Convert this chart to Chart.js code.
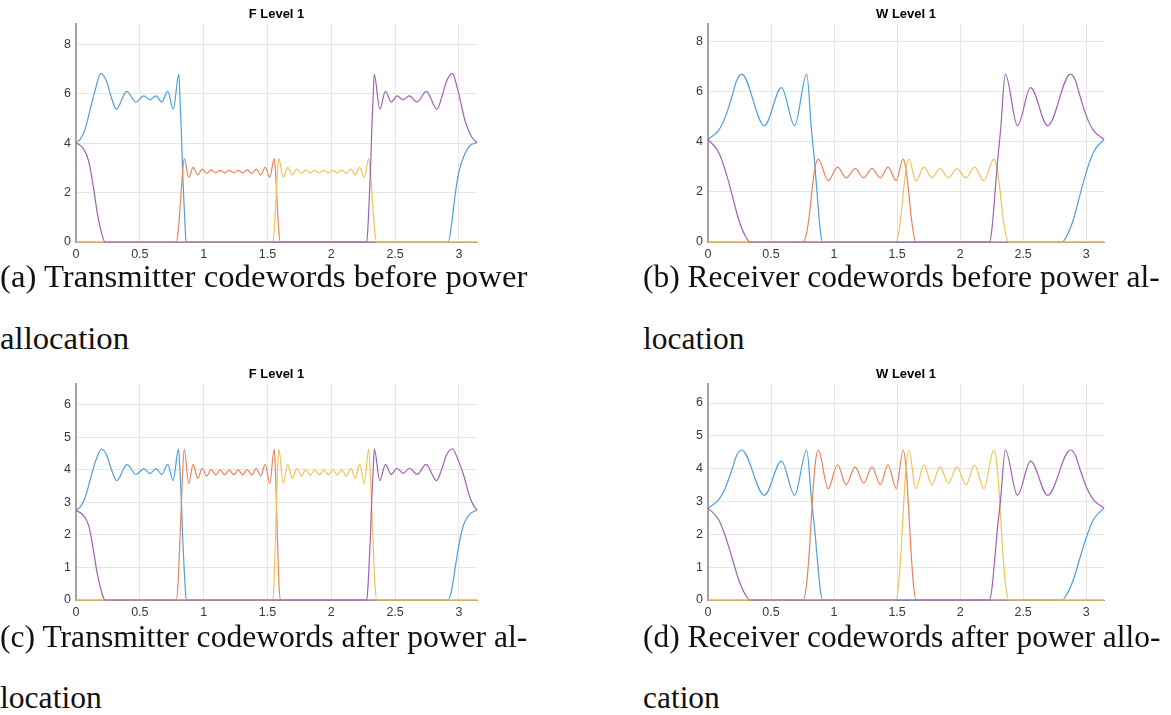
<!DOCTYPE html>
<html>
<head>
<meta charset="utf-8">
<title>Codewords before and after power allocation</title>
<script src="https://cdn.jsdelivr.net/npm/chart.js@4.4.1/dist/chart.umd.min.js"></script>
<style>
  body { margin: 0; background: #fff; width: 1171px; height: 715px; position: relative; overflow: hidden; }
  canvas { position: absolute; }
  .cap { position: absolute; font-family: 'Liberation Serif', 'Times New Roman', serif; font-size: 31px; line-height: 31px; white-space: nowrap; color: #111; transform-origin: 0 0; }
</style>
</head>
<body>
<canvas id="chartA" width="451" height="262" style="left:36px; top:0px"></canvas>
<canvas id="chartB" width="446" height="262" style="left:668px; top:0px"></canvas>
<canvas id="chartC" width="451" height="260" style="left:36px; top:360px"></canvas>
<canvas id="chartD" width="446" height="260" style="left:668px; top:360px"></canvas>

<div class="cap" id="capA1" data-w="527" style="left:0px; top:261px">(a) Transmitter codewords before power</div>
<div class="cap" id="capA2" style="left:0px; top:323px">allocation</div>
<div class="cap" id="capB1" data-w="517" style="left:643px; top:261px">(b) Receiver codewords before power al-</div>
<div class="cap" id="capB2" style="left:643px; top:323px">location</div>
<div class="cap" id="capC1" data-w="527" style="left:0px; top:621px">(c) Transmitter codewords after power al-</div>
<div class="cap" id="capC2" style="left:0px; top:682px">location</div>
<div class="cap" id="capD1" data-w="517" style="left:643px; top:621px">(d) Receiver codewords after power allo-</div>
<div class="cap" id="capD2" style="left:643px; top:682px">cation</div>

<script>
// tick labels
const xTicks = [0, 0.5, 1, 1.5, 2, 2.5, 3];
const yTicksBefore = [0, 2, 4, 6, 8];
const yTicksAfter = [0, 1, 2, 3, 4, 5, 6];
const yLimits = [8.83, 8.71, 6.64, 6.58];   // a, b, c, d
const titles = ['F Level 1', 'W Level 1', 'F Level 1', 'W Level 1'];

// (a) transmitter codewords before power allocation  [x, y]
const aBlue = [[0,4.02],[0.035,4.18],[0.07,4.55],[0.11,5.35],[0.15,6.15],[0.195,6.83],[0.24,6.5],[0.28,5.8],[0.315,5.38],[0.398,6.1],[0.47,5.67],[0.532,5.92],[0.58,5.76],[0.625,5.92],[0.672,5.67],[0.718,6.1],[0.762,5.38],[0.806,6.8],[0.814,5.9],[0.825,4.53],[0.835,2.91],[0.846,1.57],[0.856,0.49],[0.863,0],[2.916,0],[2.942,0.7],[2.97,1.9],[3.0,2.85],[3.04,3.5],[3.085,3.9],[3.1416,4.02]];
const aOrange = [[0,0],[0.785,0],[0.8,0.4],[0.815,1.4],[0.83,2.5],[0.848,3.38],[0.883,2.62],[0.918,3.02],[0.954,2.72],[0.989,2.95],[1.024,2.78],[1.059,2.92],[1.095,2.8],[1.13,2.9],[1.165,2.8],[1.2,2.9],[1.236,2.8],[1.271,2.9],[1.306,2.8],[1.341,2.92],[1.377,2.78],[1.412,2.95],[1.447,2.72],[1.482,3.02],[1.518,2.62],[1.553,3.38],[1.561,3.0],[1.568,2.4],[1.578,1.4],[1.588,0.5],[1.6,0],[3.1416,0]];
const aYellow = [[0,0],[1.542,0],[1.553,0.5],[1.563,1.4],[1.573,2.4],[1.58,3.0],[1.589,3.38],[1.624,2.62],[1.659,3.02],[1.694,2.72],[1.73,2.95],[1.765,2.78],[1.8,2.92],[1.835,2.8],[1.871,2.9],[1.906,2.8],[1.941,2.9],[1.976,2.8],[2.012,2.9],[2.047,2.8],[2.082,2.92],[2.117,2.78],[2.153,2.95],[2.188,2.72],[2.223,3.02],[2.258,2.62],[2.294,3.38],[2.311,2.5],[2.326,1.4],[2.341,0.4],[2.356,0],[3.1416,0]];
const aPurple = [[0,4.02],[0.057,3.79],[0.097,3.32],[0.136,2.24],[0.167,1.16],[0.201,0.35],[0.227,0],[2.278,0],[2.286,0.49],[2.296,1.57],[2.307,2.91],[2.317,4.53],[2.328,5.9],[2.336,6.8],[2.38,5.38],[2.424,6.1],[2.47,5.67],[2.517,5.92],[2.562,5.76],[2.61,5.92],[2.672,5.67],[2.744,6.1],[2.828,5.38],[2.862,5.8],[2.902,6.5],[2.948,6.83],[2.994,6.1],[3.046,4.94],[3.099,4.26],[3.1416,4.02]];

// (b) receiver codewords before power allocation
const bBlue = [[0,4.1],[0.084,4.46],[0.137,4.99],[0.189,5.8],[0.229,6.47],[0.267,6.71],[0.447,4.65],[0.583,6.17],[0.687,4.65],[0.783,6.71],[0.821,4.46],[0.847,3.12],[0.874,1.39],[0.89,0.5],[0.907,0],[2.808,0],[2.847,0.25],[2.9,0.92],[2.953,1.92],[3.005,2.86],[3.058,3.59],[3.1416,4.1]];
const bOrange = [[0,0],[0.755,0],[0.78,0.3],[0.805,1.12],[0.831,2.32],[0.852,3.05],[0.875,3.31],[0.953,2.45],[1.028,2.99],[1.095,2.56],[1.168,2.93],[1.235,2.56],[1.301,2.93],[1.367,2.56],[1.428,2.99],[1.493,2.45],[1.548,3.31],[1.57,2.95],[1.59,2.1],[1.61,1.1],[1.63,0.35],[1.65,0],[3.1416,0]];
const bYellow = [[0,0],[1.492,0],[1.512,0.35],[1.532,1.1],[1.552,2.1],[1.572,2.95],[1.594,3.31],[1.649,2.45],[1.714,2.99],[1.775,2.56],[1.841,2.93],[1.907,2.56],[1.974,2.93],[2.047,2.56],[2.114,2.99],[2.189,2.45],[2.267,3.31],[2.29,3.05],[2.311,2.32],[2.337,1.12],[2.362,0.3],[2.387,0],[3.1416,0]];
const bPurple = [[0,4.1],[0.084,3.59],[0.137,2.86],[0.189,1.92],[0.242,0.92],[0.295,0.25],[0.334,0],[2.235,0],[2.252,0.5],[2.268,1.39],[2.295,3.12],[2.321,4.46],[2.359,6.71],[2.455,4.65],[2.559,6.17],[2.695,4.65],[2.875,6.71],[2.913,6.47],[2.953,5.8],[3.005,4.99],[3.058,4.46],[3.1416,4.1]];

// (c) transmitter codewords after power allocation
const cBlue = [[0,2.76],[0.035,2.87],[0.07,3.13],[0.11,3.68],[0.15,4.23],[0.2,4.64],[0.24,4.45],[0.28,3.98],[0.318,3.67],[0.4,4.16],[0.47,3.86],[0.532,4.04],[0.58,3.89],[0.626,4.04],[0.673,3.86],[0.718,4.17],[0.76,3.67],[0.804,4.64],[0.814,4.0],[0.825,3.1],[0.835,2.0],[0.846,1.05],[0.856,0.33],[0.863,0],[2.916,0],[2.945,0.35],[2.975,1.1],[3.005,1.8],[3.04,2.35],[3.085,2.64],[3.1416,2.76]];
const cOrange = [[0,0],[0.785,0],[0.8,0.55],[0.815,1.9],[0.83,3.4],[0.848,4.64],[0.883,3.58],[0.918,4.17],[0.954,3.74],[0.989,4.05],[1.024,3.81],[1.059,4.01],[1.095,3.84],[1.13,4.0],[1.165,3.85],[1.2,4.0],[1.236,3.85],[1.271,4.0],[1.306,3.85],[1.341,4.01],[1.377,3.84],[1.412,4.05],[1.447,3.81],[1.482,4.17],[1.518,3.58],[1.553,4.64],[1.561,4.1],[1.568,3.3],[1.578,1.9],[1.588,0.7],[1.6,0],[3.1416,0]];
const cYellow = [[0,0],[1.542,0],[1.553,0.7],[1.563,1.9],[1.573,3.3],[1.58,4.1],[1.589,4.64],[1.624,3.58],[1.659,4.17],[1.694,3.74],[1.73,4.05],[1.765,3.81],[1.8,4.01],[1.835,3.84],[1.871,4.0],[1.906,3.85],[1.941,4.0],[1.976,3.85],[2.012,4.0],[2.047,3.84],[2.082,4.01],[2.117,3.81],[2.153,4.05],[2.188,3.74],[2.223,4.17],[2.258,3.58],[2.294,4.64],[2.311,3.4],[2.326,1.9],[2.341,0.55],[2.356,0],[3.1416,0]];
const cPurple = [[0,2.76],[0.057,2.6],[0.1,2.28],[0.136,1.54],[0.167,0.8],[0.201,0.24],[0.227,0],[2.278,0],[2.286,0.33],[2.296,1.05],[2.307,2.0],[2.317,3.1],[2.328,4.0],[2.337,4.64],[2.38,3.67],[2.425,4.17],[2.468,3.86],[2.516,4.05],[2.563,3.89],[2.612,4.05],[2.673,3.86],[2.742,4.17],[2.825,3.67],[2.862,3.98],[2.902,4.45],[2.948,4.65],[2.994,4.3],[3.033,3.89],[3.085,3.17],[3.115,2.9],[3.1416,2.76]];

// (d) receiver codewords after power allocation
const dBlue = [[0,2.8],[0.084,3.05],[0.137,3.41],[0.189,3.96],[0.229,4.42],[0.267,4.57],[0.447,3.19],[0.583,4.23],[0.687,3.19],[0.783,4.57],[0.821,3.05],[0.847,2.13],[0.874,0.95],[0.89,0.34],[0.907,0],[2.808,0],[2.847,0.17],[2.9,0.63],[2.953,1.31],[3.005,1.95],[3.058,2.45],[3.1416,2.8]];
const dOrange = [[0,0],[0.755,0],[0.78,0.41],[0.805,1.55],[0.831,3.2],[0.852,4.2],[0.875,4.57],[0.953,3.39],[1.028,4.12],[1.095,3.51],[1.168,4.05],[1.235,3.56],[1.301,4.05],[1.367,3.51],[1.428,4.12],[1.493,3.39],[1.548,4.57],[1.57,4.07],[1.59,2.9],[1.61,1.52],[1.63,0.48],[1.65,0],[3.1416,0]];
const dYellow = [[0,0],[1.492,0],[1.512,0.48],[1.532,1.52],[1.552,2.9],[1.572,4.07],[1.594,4.57],[1.649,3.39],[1.714,4.12],[1.775,3.51],[1.841,4.05],[1.907,3.56],[1.974,4.05],[2.047,3.51],[2.114,4.12],[2.189,3.39],[2.267,4.57],[2.29,4.2],[2.311,3.2],[2.337,1.55],[2.362,0.41],[2.387,0],[3.1416,0]];
const dPurple = [[0,2.8],[0.084,2.45],[0.137,1.95],[0.189,1.31],[0.242,0.63],[0.295,0.17],[0.334,0],[2.235,0],[2.252,0.34],[2.268,0.95],[2.295,2.13],[2.321,3.05],[2.359,4.57],[2.455,3.19],[2.559,4.23],[2.695,3.19],[2.875,4.57],[2.913,4.42],[2.953,3.96],[3.005,3.41],[3.058,3.05],[3.1416,2.8]];

const lineColors = ['#4f9fdc', '#e8845a', '#f0c454', '#a062b2'];

function makeChart(id, title, series, yMax, yTicks) {
    const ctx = document.getElementById(id);
    return new Chart(ctx, {
        type: 'line',
        data: {
            datasets: series.map(function(pts, i) {
                return {
                    data: pts.map(p => ({ x: p[0], y: p[1] })),
                    borderColor: lineColors[i],
                    borderWidth: 1.2,
                    pointRadius: 0,
                    fill: false,
                    cubicInterpolationMode: 'monotone',
                    clip: 4,
                    order: series.length - i   // later series drawn on top, like MATLAB
                };
            })
        },
        options: {
            responsive: false,
            animation: false,
            layout: { padding: { left: 0, right: 10, top: 0, bottom: 0 } },
            plugins: {
                legend: { display: false },
                tooltip: { enabled: false },
                title: {
                    display: true,
                    text: title,
                    fullSize: false,
                    color: '#000',
                    font: { family: 'Liberation Sans', size: 13, weight: 'bold', lineHeight: 1 },
                    padding: { top: 8, bottom: 3 }
                }
            },
            scales: {
                x: {
                    type: 'linear',
                    min: 0,
                    max: Math.PI,
                    afterBuildTicks: s => { s.ticks = xTicks.map(v => ({ value: v })); },
                    afterFit: s => { s.height = 20; },
                    grid: { color: '#e6e6e6', drawTicks: false },
                    border: { color: '#9a9a9a', width: 1 },
                    ticks: {
                        padding: 5,
                        color: '#383838',
                        maxRotation: 0,
                        font: { family: 'Liberation Sans', size: 12.5 },
                        callback: v => String(v)
                    }
                },
                y: {
                    min: 0,
                    max: yMax,
                    afterBuildTicks: s => { s.ticks = yTicks.map(v => ({ value: v })); },
                    afterFit: s => { s.width = 40; },
                    grid: { color: '#e6e6e6', drawTicks: false },
                    border: { color: '#a3a3a3', width: 2 },
                    ticks: {
                        padding: 5,
                        color: '#383838',
                        font: { family: 'Liberation Sans', size: 12.5 },
                        callback: v => String(v)
                    }
                }
            }
        }
    });
}

function fitCaption(firstId, secondId) {
    const first = document.getElementById(firstId);
    const second = document.getElementById(secondId);
    const target = parseFloat(first.dataset.w);
    const k = target / first.offsetWidth;
    first.style.transform = 'scaleX(' + k + ')';
    second.style.transform = 'scaleX(' + k + ')';
}

document.addEventListener('DOMContentLoaded', function() {
    try {
        makeChart('chartA', titles[0], [aBlue, aOrange, aYellow, aPurple], yLimits[0], yTicksBefore);
        makeChart('chartB', titles[1], [bBlue, bOrange, bYellow, bPurple], yLimits[1], yTicksBefore);
        makeChart('chartC', titles[2], [cBlue, cOrange, cYellow, cPurple], yLimits[2], yTicksAfter);
        makeChart('chartD', titles[3], [dBlue, dOrange, dYellow, dPurple], yLimits[3], yTicksAfter);
    } catch (error) {
        console.error('Chart error:', error);
    }
    fitCaption('capA1', 'capA2');
    fitCaption('capB1', 'capB2');
    fitCaption('capC1', 'capC2');
    fitCaption('capD1', 'capD2');
});
</script>
</body>
</html>
